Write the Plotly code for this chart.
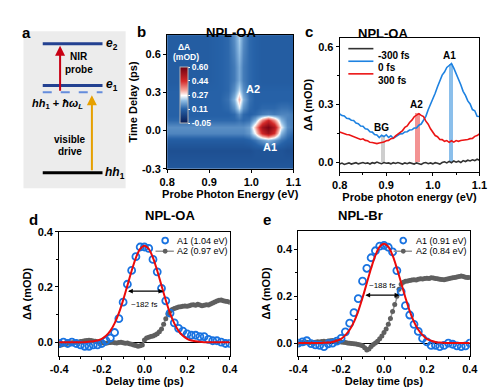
import plotly.graph_objects as go

W, H = 500, 391
FONT = "Arial"

# ---------------- panel b : 2D map (coarse grid) ----------------
map_energy = [0.80, 0.83, 0.86, 0.89, 0.92, 0.945, 0.96, 0.97, 0.98, 0.995,
              1.01, 1.025, 1.04, 1.055, 1.07, 1.085, 1.10]
map_delay = [-0.30, -0.225, -0.15, -0.075, -0.02, 0.03, 0.08, 0.13, 0.18,
             0.25, 0.32, 0.40, 0.50, 0.62, 0.75]
map_dA = [
    [0.09, 0.09, 0.09, 0.09, 0.09, 0.09, 0.09, 0.09, 0.09, 0.09, 0.09, 0.09, 0.09, 0.09, 0.09, 0.09, 0.09],
    [0.08, 0.08, 0.08, 0.08, 0.08, 0.08, 0.08, 0.08, 0.08, 0.08, 0.08, 0.08, 0.08, 0.08, 0.08, 0.08, 0.08],
    [0.07, 0.07, 0.07, 0.07, 0.07, 0.07, 0.07, 0.07, 0.07, 0.07, 0.08, 0.08, 0.08, 0.08, 0.08, 0.07, 0.07],
    [0.10, 0.10, 0.10, 0.10, 0.10, 0.10, 0.10, 0.10, 0.10, 0.11, 0.13, 0.17, 0.20, 0.17, 0.13, 0.11, 0.10],
    [0.15, 0.15, 0.15, 0.15, 0.15, 0.15, 0.15, 0.15, 0.15, 0.17, 0.27, 0.45, 0.52, 0.43, 0.20, 0.14, 0.12],
    [0.16, 0.16, 0.16, 0.16, 0.16, 0.16, 0.16, 0.16, 0.16, 0.18, 0.32, 0.52, 0.58, 0.50, 0.26, 0.16, 0.14],
    [0.12, 0.12, 0.12, 0.12, 0.12, 0.12, 0.12, 0.13, 0.12, 0.13, 0.20, 0.36, 0.45, 0.35, 0.20, 0.15, 0.14],
    [0.11, 0.11, 0.11, 0.11, 0.11, 0.11, 0.12, 0.16, 0.12, 0.11, 0.12, 0.14, 0.15, 0.14, 0.15, 0.15, 0.14],
    [0.11, 0.11, 0.11, 0.11, 0.11, 0.12, 0.16, 0.25, 0.16, 0.12, 0.11, 0.12, 0.12, 0.12, 0.13, 0.13, 0.12],
    [0.11, 0.11, 0.11, 0.11, 0.11, 0.13, 0.20, 0.32, 0.20, 0.13, 0.11, 0.11, 0.11, 0.11, 0.11, 0.11, 0.11],
    [0.11, 0.11, 0.11, 0.11, 0.11, 0.12, 0.16, 0.24, 0.16, 0.12, 0.11, 0.11, 0.11, 0.11, 0.11, 0.11, 0.11],
    [0.10, 0.10, 0.10, 0.10, 0.11, 0.12, 0.14, 0.19, 0.14, 0.12, 0.11, 0.10, 0.10, 0.10, 0.10, 0.10, 0.10],
    [0.10, 0.10, 0.10, 0.10, 0.11, 0.12, 0.14, 0.19, 0.14, 0.12, 0.11, 0.10, 0.10, 0.10, 0.10, 0.10, 0.10],
    [0.10, 0.10, 0.10, 0.10, 0.11, 0.12, 0.15, 0.21, 0.15, 0.12, 0.11, 0.10, 0.10, 0.10, 0.10, 0.10, 0.10],
    [0.10, 0.10, 0.10, 0.10, 0.11, 0.12, 0.16, 0.23, 0.16, 0.12, 0.11, 0.10, 0.10, 0.10, 0.10, 0.10, 0.10],
]
cbar_ticks = [-0.05, 0.11, 0.27, 0.44, 0.60]
cbar_labels = ["-0.05", "0.11", "0.27", "0.44", "0.60"]

# ---------------- panel c : spectra ----------------
c_energy = [round(0.80 + 0.005 * i, 3) for i in range(61)]
c_m300 = [-0.010, -0.005, -0.012, -0.008, -0.004, -0.010, -0.006, -0.003, -0.009, -0.005,
          -0.002, -0.007, -0.004, -0.010, -0.003, -0.006, 0.000, -0.005, -0.008, -0.002,
          -0.006, -0.004, -0.009, -0.003, -0.007, -0.002, -0.005, -0.010, -0.004, -0.008,
          -0.003, -0.006, -0.010, -0.004, -0.007, -0.012, -0.005, -0.002, -0.008, -0.004,
          -0.009, -0.003, -0.006, -0.010, -0.002, 0.002, -0.004, 0.004, -0.003, 0.006,
          0.000, 0.005, -0.002, 0.008, 0.003, 0.010, 0.006, 0.012, 0.008, 0.015, 0.010]
c_0 = [0.250, 0.242, 0.240, 0.228, 0.226, 0.218, 0.216, 0.203, 0.200, 0.188,
       0.186, 0.173, 0.171, 0.158, 0.156, 0.143, 0.141, 0.128, 0.140, 0.133,
       0.142, 0.128, 0.137, 0.124, 0.132, 0.140, 0.147, 0.148, 0.157, 0.158,
       0.167, 0.168, 0.177, 0.178, 0.192, 0.198, 0.217, 0.238, 0.272, 0.298,
       0.332, 0.358, 0.392, 0.418, 0.452, 0.468, 0.492, 0.502, 0.512, 0.488,
       0.462, 0.428, 0.402, 0.368, 0.347, 0.318, 0.302, 0.273, 0.267, 0.238, 0.237]
c_300 = [0.157, 0.152, 0.151, 0.144, 0.142, 0.137, 0.136, 0.128, 0.126, 0.118,
         0.121, 0.113, 0.111, 0.103, 0.102, 0.098, 0.096, 0.099, 0.101, 0.104,
         0.111, 0.113, 0.122, 0.124, 0.136, 0.144, 0.156, 0.164, 0.181, 0.188,
         0.206, 0.218, 0.236, 0.244, 0.252, 0.243, 0.237, 0.213, 0.197, 0.173,
         0.157, 0.138, 0.132, 0.118, 0.117, 0.108, 0.112, 0.103, 0.111, 0.104,
         0.112, 0.108, 0.112, 0.113, 0.117, 0.118, 0.122, 0.123, 0.134, 0.138, 0.147]
c_names = ["-300 fs", "0 fs", "300 fs"]
c_colors = ["rgb(50,50,50)", "rgb(30,130,225)", "rgb(235,20,20)"]
band_center = [0.8925, 0.967, 1.038]
band_height = [0.135, 0.255, 0.51]
band_labels = ["BG", "A2", "A1"]

# ---------------- panel d : NPL-OA kinetics ----------------
d_t_a1 = [round(-0.40 + 0.02 * i, 2) for i in range(41)]
d_a1 = [-0.005, 0.000, -0.005, 0.000, -0.005, -0.010, -0.015, -0.015, -0.010, -0.010,
        -0.005, 0.005, 0.015, 0.035, 0.085, 0.145, 0.210, 0.260, 0.310, 0.345,
        0.345, 0.340, 0.300, 0.255, 0.195, 0.150, 0.105, 0.070, 0.050, 0.040,
        0.030, 0.025, 0.025, 0.020, 0.020, 0.010, 0.005, 0.005, 0.000, -0.005, -0.005]
d_fit = [0.000, 0.000, 0.000, 0.000, 0.000, 0.000, 0.000, 0.001, 0.003, 0.006,
         0.012, 0.023, 0.041, 0.068, 0.105, 0.152, 0.205, 0.259, 0.306, 0.338,
         0.350, 0.338, 0.306, 0.259, 0.205, 0.152, 0.105, 0.068, 0.041, 0.023,
         0.012, 0.006, 0.003, 0.001, 0.000, 0.000, 0.000, 0.000, 0.000, 0.000, 0.000]
d_t_a2 = [round(-0.40 + 0.01 * i, 2) for i in range(81)]
d_a2 = [-0.012, -0.010, -0.008, -0.006, -0.004, -0.003, -0.002, -0.001, 0.000, 0.000,
        0.002, 0.003, 0.005, 0.006, 0.007, 0.006, 0.004, 0.003, 0.001, 0.000,
        -0.002, -0.003, -0.004, -0.002, -0.001, 0.000, -0.002, -0.003, -0.001, 0.000,
        -0.002, -0.004, -0.003, -0.006, -0.008, -0.010, -0.012, -0.015, -0.013, -0.010,
        0.008, 0.015, 0.018, 0.020, 0.022, 0.026, 0.030, 0.038, 0.048, 0.065,
        0.085, 0.102, 0.112, 0.118, 0.122, 0.125, 0.127, 0.128, 0.130, 0.131,
        0.130, 0.132, 0.135, 0.136, 0.134, 0.137, 0.135, 0.132, 0.134, 0.136,
        0.135, 0.138, 0.142, 0.146, 0.149, 0.152, 0.153, 0.150, 0.148, 0.147, 0.145]
d_names = ["A1 (1.04 eV)", "A2 (0.97 eV)"]

# ---------------- panel e : NPL-Br kinetics ----------------
e_t_a1 = [round(-0.40 + 0.02 * i, 2) for i in range(41)]
e_a1 = [0.000, 0.005, 0.010, -0.002, -0.008, -0.010, -0.015, -0.003, 0.000, 0.008,
        0.020, 0.048, 0.085, 0.130, 0.190, 0.265, 0.320, 0.365, 0.395, 0.415,
        0.418, 0.410, 0.390, 0.310, 0.220, 0.160, 0.120, 0.080, 0.050, 0.020,
        0.005, -0.010, -0.010, -0.015, -0.010, 0.000, -0.005, -0.012, -0.015, -0.012, 0.000]
e_fit = [0.000, 0.000, 0.000, 0.000, 0.000, 0.000, 0.001, 0.002, 0.005, 0.010,
         0.018, 0.034, 0.057, 0.091, 0.137, 0.194, 0.257, 0.320, 0.375, 0.412,
         0.425, 0.412, 0.375, 0.320, 0.257, 0.194, 0.137, 0.091, 0.057, 0.034,
         0.018, 0.010, 0.005, 0.002, 0.001, 0.000, 0.000, 0.000, 0.000, 0.000, 0.000]
e_t_a2 = [round(-0.40 + 0.01 * i, 2) for i in range(81)]
e_a2 = [0.000, -0.002, 0.002, 0.000, 0.003, 0.001, 0.003, 0.002, 0.004, 0.006,
        0.005, 0.007, 0.008, 0.006, 0.009, 0.010, 0.011, 0.009, 0.008, 0.006,
        0.005, 0.003, 0.002, 0.000, -0.001, -0.002, -0.003, -0.004, -0.006, -0.008,
        -0.012, -0.020, -0.030, -0.025, -0.015, -0.006, 0.000, 0.008, 0.018, 0.030,
        0.045, 0.060, 0.080, 0.105, 0.135, 0.165, 0.200, 0.230, 0.252, 0.260,
        0.264, 0.266, 0.268, 0.270, 0.271, 0.270, 0.273, 0.275, 0.274, 0.276,
        0.277, 0.276, 0.279, 0.278, 0.276, 0.275, 0.273, 0.272, 0.271, 0.273,
        0.275, 0.277, 0.279, 0.281, 0.283, 0.285, 0.287, 0.285, 0.282, 0.280, 0.281]
e_names = ["A1 (0.91 eV)", "A2 (0.84 eV)"]

# ---------------- panel a : level scheme (schematic units) ----------------
level_names = ["e2", "e1", "virtual", "hh1"]
level_y = [39, 82, 89, 172]
level_x = [35, 97]


def px(x):
    return x / W


def py(y):
    return 1 - y / H


fig = go.Figure()

BLUE = "rgb(25,115,225)"
RED = "rgb(235,10,10)"
GREY = "rgb(95,95,95)"
GREYLINE = "rgb(150,150,150)"

# --- b heatmap
fig.add_trace(go.Heatmap(
    x=map_energy, y=map_delay, z=map_dA, zmin=-0.05, zmax=0.60, zsmooth="best",
    xaxis="x", yaxis="y",
    colorscale=[[0.0, "rgb(8,28,85)"], [0.25, "rgb(38,98,168)"], [0.40, "rgb(145,190,228)"],
                [0.49, "rgb(255,255,255)"], [0.58, "rgb(246,170,160)"], [0.75, "rgb(212,40,40)"],
                [1.0, "rgb(110,0,18)"]],
    colorbar=dict(x=px(177), xanchor="left", xpad=0, y=py(63), yanchor="top", ypad=0,
                  thickness=8, lenmode="pixels", len=56,
                  tickvals=cbar_ticks, ticktext=cbar_labels, ticks="outside", ticklen=2,
                  tickcolor="white",
                  tickfont=dict(family=FONT, size=8.5, color="white", weight="bold"),
                  outlinecolor="rgb(180,180,180)", outlinewidth=1),
))

# --- c bands + spectra
band_colors = ["rgba(190,190,190,0.75)", "rgba(240,120,120,0.8)", "rgba(110,175,230,0.8)"]
fig.add_trace(go.Bar(x=band_center, y=band_height, width=[0.009, 0.01, 0.01],
                     marker=dict(color=band_colors, line=dict(width=0)),
                     xaxis="x2", yaxis="y2", showlegend=False))
for name, ys, col in zip(c_names, [c_m300, c_0, c_300], c_colors):
    fig.add_trace(go.Scatter(x=c_energy, y=ys, mode="lines", name=name,
                             line=dict(color=col, width=1.6), xaxis="x2", yaxis="y2",
                             showlegend=False))

# --- d kinetics
fig.add_trace(go.Scatter(x=d_t_a2, y=d_a2, mode="lines+markers", name=d_names[1],
                         line=dict(color=GREYLINE, width=1.5),
                         marker=dict(color=GREY, size=5), xaxis="x3", yaxis="y3", showlegend=False))
fig.add_trace(go.Scatter(x=d_t_a1, y=d_a1, mode="markers", name=d_names[0],
                         marker=dict(symbol="circle-open", color=BLUE, size=7, line=dict(width=1.8)),
                         xaxis="x3", yaxis="y3", showlegend=False))
fig.add_trace(go.Scatter(x=d_t_a1, y=d_fit, mode="lines", line=dict(color=RED, width=2, shape="spline"),
                         xaxis="x3", yaxis="y3", showlegend=False))

# --- e kinetics
fig.add_trace(go.Scatter(x=e_t_a2, y=e_a2, mode="lines+markers", name=e_names[1],
                         line=dict(color=GREYLINE, width=1.5),
                         marker=dict(color=GREY, size=5), xaxis="x4", yaxis="y4", showlegend=False))
fig.add_trace(go.Scatter(x=e_t_a1, y=e_a1, mode="markers", name=e_names[0],
                         marker=dict(symbol="circle-open", color=BLUE, size=7, line=dict(width=1.8)),
                         xaxis="x4", yaxis="y4", showlegend=False))
fig.add_trace(go.Scatter(x=e_t_a1, y=e_fit, mode="lines", line=dict(color=RED, width=2, shape="spline"),
                         xaxis="x4", yaxis="y4", showlegend=False))

# --- a levels
level_style = {"e2": dict(color="rgb(35,65,145)", width=3),
               "e1": dict(color="rgb(35,65,145)", width=3),
               "virtual": dict(color="rgb(100,140,220)", width=2, dash="dash"),
               "hh1": dict(color="black", width=3)}
for nm, yv in zip(level_names, level_y):
    fig.add_trace(go.Scatter(x=level_x, y=[yv, yv], mode="lines", line=level_style[nm],
                             xaxis="x5", yaxis="y5", showlegend=False, hoverinfo="skip"))

tickf = dict(family=FONT, size=11, color="black", weight="bold")
titf = dict(family=FONT, size=11, color="black", weight="bold")


def frame_axis(**kw):
    base = dict(showline=True, linecolor="black", linewidth=1, mirror=True,
                ticks="outside", ticklen=3, tickwidth=1, tickcolor="black",
                tickfont=tickf, showgrid=False, zeroline=False)
    base.update(kw)
    return base


fig.update_layout(
    width=W, height=H, margin=dict(l=0, r=0, t=0, b=0),
    paper_bgcolor="white", plot_bgcolor="rgba(0,0,0,0)",
    font=dict(family=FONT, color="black"),
    bargap=0, showlegend=False,
    # b
    xaxis=frame_axis(domain=[px(164), px(295)], anchor="y", range=[0.8, 1.1],
                     tickvals=[0.8, 0.9, 1.0, 1.1], ticktext=["0.8", "0.9", "1.0", "1.1"],
                     title=dict(text="Probe Photon Energy (eV)", font=titf, standoff=0)),
    yaxis=frame_axis(domain=[py(168), py(30)], anchor="x", range=[-0.3, 0.75],
                     tickvals=[-0.3, 0.0, 0.3, 0.6], ticktext=["-0.3", "0.0", "0.3", "0.6"],
                     title=dict(text="Time Delay (ps)", font=titf, standoff=2)),
    # c
    xaxis2=frame_axis(domain=[px(343), px(488)], anchor="y2", range=[0.8, 1.1],
                      tickvals=[0.8, 0.9, 1.0, 1.1], ticktext=["0.8", "0.9", "1.0", "1.1"],
                      minor=dict(dtick=0.05, ticks="outside", ticklen=2, tickcolor="black"),
                      title=dict(text="Probe photon energy (eV)", font=titf, standoff=0)),
    yaxis2=frame_axis(domain=[py(171), py(33)], anchor="x2", range=[-0.05, 0.645],
                      tickvals=[0.0, 0.3, 0.6], ticktext=["0.0", "0.3", "0.6"],
                      minor=dict(dtick=0.15, ticks="outside", ticklen=2, tickcolor="black"),
                      title=dict(text="ΔA (mOD)", font=titf, standoff=3)),
    # d
    xaxis3=frame_axis(domain=[px(52), px(229)], anchor="y3", range=[-0.4, 0.4],
                      tickvals=[-0.4, -0.2, 0.0, 0.2, 0.4], ticktext=["-0.4", "-0.2", "0.0", "0.2", "0.4"],
                      minor=dict(dtick=0.1, ticks="outside", ticklen=2, tickcolor="black"),
                      title=dict(text="Delay time (ps)", font=titf, standoff=0)),
    yaxis3=frame_axis(domain=[py(361), py(233)], anchor="x3", range=[-0.05, 0.4],
                      tickvals=[0.0, 0.2, 0.4], ticktext=["0.0", "0.2", "0.4"],
                      minor=dict(dtick=0.1, ticks="outside", ticklen=2, tickcolor="black"),
                      zeroline=True, zerolinecolor="black", zerolinewidth=1.2,
                      title=dict(text="ΔA (mOD)", font=titf, standoff=3)),
    # e
    xaxis4=frame_axis(domain=[px(300), px(478)], anchor="y4", range=[-0.4, 0.4],
                      tickvals=[-0.4, -0.2, 0.0, 0.2, 0.4], ticktext=["-0.4", "-0.2", "0.0", "0.2", "0.4"],
                      minor=dict(dtick=0.1, ticks="outside", ticklen=2, tickcolor="black"),
                      title=dict(text="Delay time (ps)", font=titf, standoff=0)),
    yaxis4=frame_axis(domain=[py(361), py(232)], anchor="x4", range=[-0.055, 0.48],
                      tickvals=[0.0, 0.2, 0.4], ticktext=["0.0", "0.2", "0.4"],
                      minor=dict(dtick=0.1, ticks="outside", ticklen=2, tickcolor="black"),
                      zeroline=True, zerolinecolor="black", zerolinewidth=1.2,
                      title=dict(text="ΔA (mOD)", font=titf, standoff=3)),
    # a (schematic)
    xaxis5=dict(domain=[px(15), px(121)], anchor="y5", range=[15, 121], visible=False),
    yaxis5=dict(domain=[py(188), py(26)], anchor="x5", range=[188, 26], visible=False),
)

shapes = []
# grey background box of panel a
shapes.append(dict(type="rect", xref="x5 domain", yref="y5 domain", x0=0, x1=1, y0=0, y1=1,
                   fillcolor="rgb(236,236,236)", line=dict(width=0), layer="below"))

ann = []


def txt(x, y, s, size=11, bold=True, color="black", xref="paper", yref="paper", **kw):
    d = dict(x=x, y=y, xref=xref, yref=yref, text=s, showarrow=False, borderpad=0,
             font=dict(family=FONT, size=size, color=color, weight="bold" if bold else "normal"))
    d.update(kw)
    ann.append(d)


# ---- hand-made compact legends (paper pixel positions) ----
# c
for i, (nm, col) in enumerate(zip(c_names, c_colors)):
    yy = 44 + 13 * i
    shapes.append(dict(type="line", xref="paper", yref="paper", x0=px(352), x1=px(378),
                       y0=py(yy), y1=py(yy), line=dict(color=col, width=1.6)))
    txt(px(382), py(yy), nm, size=10, xanchor="left")
# d and e
for names, mx, lx0, lx1, tx in [(d_names, 162, 152, 171, 173), (e_names, 409, 399, 418, 421)]:
    y1, y2 = 242, 253
    shapes.append(dict(type="circle", xref="paper", yref="paper", x0=px(mx - 3), x1=px(mx + 3),
                       y0=py(y1 + 3), y1=py(y1 - 3), line=dict(color=BLUE, width=1.8)))
    shapes.append(dict(type="line", xref="paper", yref="paper", x0=px(lx0), x1=px(lx1),
                       y0=py(y2), y1=py(y2), line=dict(color=GREYLINE, width=1.5)))
    shapes.append(dict(type="circle", xref="paper", yref="paper", x0=px(mx - 2.5), x1=px(mx + 2.5),
                       y0=py(y2 + 2.5), y1=py(y2 - 2.5), fillcolor=GREY, line=dict(color=GREY, width=0)))
    txt(px(tx), py(y1), names[0], size=9, bold=False, xanchor="left")
    txt(px(tx), py(y2), names[1], size=9, bold=False, xanchor="left")

# colorbar title
txt(px(182), py(36), "ΔA", size=8.5, color="white")
txt(px(184), py(46.5), "(mOD)", size=8.5, color="white")

# panel letters
for letter, lx, ly in [("a", 12, 18), ("b", 132, 17), ("c", 311, 17), ("d", 20, 220), ("e", 268, 220)]:
    txt(px(lx), py(ly), letter, size=15)
# titles
for t, tx, ty in [("NPL-OA", 230, 19), ("NPL-OA", 415, 20), ("NPL-OA", 140, 216), ("NPL-Br", 389, 216)]:
    txt(px(tx), py(ty), t, size=13)

# heatmap labels
txt(1.004, 0.324, "A2", size=11, color="white", xref="x", yref="y")
txt(1.045, -0.13, "A1", size=11, color="white", xref="x", yref="y")

# band labels in c
for lab, xc, hgt in zip(band_labels, band_center, band_height):
    txt(xc - 0.002, hgt + 0.045, lab, size=10, xref="x2", yref="y2")

# d annotation
ann.append(dict(x=0.088, y=0.185, ax=-0.084, ay=0.185, xref="x3", yref="y3", axref="x3", ayref="y3",
                showarrow=True, arrowhead=2, startarrowhead=2, arrowside="end+start",
                arrowsize=0.8, arrowwidth=1.2, arrowcolor="black", text=""))
txt(0.0, 0.135, "~182 fs", size=8, bold=False, xref="x3", yref="y3")
# e annotation
ann.append(dict(x=0.072, y=0.205, ax=-0.094, ay=0.205, xref="x4", yref="y4", axref="x4", ayref="y4",
                showarrow=True, arrowhead=2, startarrowhead=2, arrowside="end+start",
                arrowsize=0.8, arrowwidth=1.2, arrowcolor="black", text=""))
txt(-0.01, 0.245, "~188 fs", size=8, bold=False, xref="x4", yref="y4")

# panel a arrows and labels
ann.append(dict(x=53, y=41, ax=53, ay=89, xref="x5", yref="y5", axref="x5", ayref="y5",
                showarrow=True, arrowhead=2, arrowsize=1, arrowwidth=2,
                arrowcolor="rgb(200,0,20)", text=""))
ann.append(dict(x=86, y=92, ax=86, ay=171, xref="x5", yref="y5", axref="x5", ayref="y5",
                showarrow=True, arrowhead=2, arrowsize=1, arrowwidth=2,
                arrowcolor="rgb(230,160,0)", text=""))
txt(100, level_y[0], "<i>e</i><sub>2</sub>", size=12, xref="x5", yref="y5", xanchor="left")
txt(100, level_y[1] - 1, "<i>e</i><sub>1</sub>", size=12, xref="x5", yref="y5", xanchor="left")
txt(99, level_y[3], "<i>hh</i><sub>1</sub>", size=12, xref="x5", yref="y5", xanchor="left")
txt(50, 101, "<i>hh</i><sub>1</sub> + <i>ħω</i><sub><i>L</i></sub>", size=11, xref="x5", yref="y5")
txt(73, 52, "NIR", size=10, xref="x5", yref="y5")
txt(73, 65, "probe", size=10, xref="x5", yref="y5")
txt(63, 138, "visible", size=10, xref="x5", yref="y5")
txt(63, 150, "drive", size=10, xref="x5", yref="y5")

fig.update_layout(annotations=ann, shapes=shapes)
fig.write_html("out.html", config={"displayModeBar": False},
               post_script="document.body.style.margin='0px';")
